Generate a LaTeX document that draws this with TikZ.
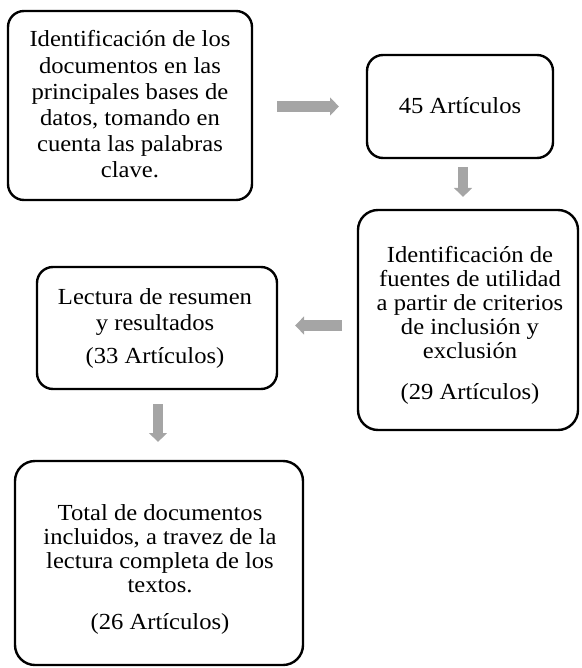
\documentclass[tikz,border=0pt]{standalone}
\usepackage{fontspec}
\setmainfont{Liberation Serif}[FakeStretch=1.07]
\usetikzlibrary{arrows.meta,calc}
\definecolor{arrowgray}{HTML}{A5A5A5}
\newcommand\txtlines[2][24pt]{\vtop{\baselineskip=#1\lineskiplimit=-20pt\lineskip=0pt\halign{\hfil##\hfil\cr #2\crcr}}}
\tikzset{
  bx/.style={draw=black, line width=2.4pt, rounded corners=16pt, inner sep=0pt, outer sep=0pt, fill=none},
  txt/.style={inner sep=0pt, outer sep=0pt, anchor=base, font=\fontsize{23}{24}\selectfont},
  blk/.style={draw=arrowgray, line width=10.5pt, -{Triangle[length=9pt,width=17.5pt]}},
}
\begin{document}
\begin{tikzpicture}[x=1pt,y=-1pt]
\useasboundingbox (0,0) rectangle (581,668);
% boxes
\node[bx, minimum width=244pt, minimum height=189pt] (b1) at (130,105.5) {};
\node[bx, minimum width=186pt, minimum height=103pt] (b2) at (460,106.5) {};
\node[bx, minimum width=220pt, minimum height=220pt, rounded corners=20pt] (b3) at (468,320) {};
\node[bx, minimum width=240pt, minimum height=122pt] (b4) at (157,328) {};
\node[bx, minimum width=288pt, minimum height=204pt, rounded corners=20pt] (b5) at (159,563) {};
% texts
\node[txt] (t1) at (130,47) {\txtlines[26.2pt]{Identificación de los\cr documentos en las\cr principales bases de\cr datos, tomando en\cr cuenta las palabras\cr clave.}};
\node[txt] (t2) at (460,114) {45 Artículos};
\node[txt] (t3) at (470,262) {\txtlines{Identificación de\cr fuentes de utilidad\cr a partir de criterios\cr de inclusión y\cr exclusión\cr\noalign{\vskip 17pt} (29 Artículos)}};
\node[txt] (t4) at (155,304) {\txtlines[26pt]{Lectura de resumen\cr y resultados\cr\noalign{\vskip 7pt} (33 Artículos)}};
\node[txt] (t5) at (160,520) {\txtlines{Total de documentos\cr incluidos, a travez de la\cr lectura completa de los\cr textos.\cr\noalign{\vskip 13pt} (26 Artículos)}};
% arrow anchors
\coordinate (a1s) at ($(b1.east)+(0,1)$);
\coordinate (a1e) at (b2.west);
\coordinate (a2s) at ($(b2.south)+(3,0)$);
\coordinate (a2e) at (a2s |- b3.north);
\coordinate (a3s) at ($(b3.west)+(0,5.5)$);
\coordinate (a3e) at (a3s -| b4.east);
\coordinate (a4s) at ($(b4.south)+(1,0)$);
\coordinate (a4e) at (a4s |- b5.north);
% arrows
\draw[blk, shorten <=25pt, shorten >=28pt] (a1s) -- (a1e);
\draw[blk, shorten <=9pt, shorten >=13pt] (a2s) -- (a2e);
\draw[blk, shorten <=16pt, shorten >=18pt] (a3s) -- (a3e);
\draw[blk, shorten <=15pt, shorten >=19pt] (a4s) -- (a4e);
\end{tikzpicture}
\end{document}
